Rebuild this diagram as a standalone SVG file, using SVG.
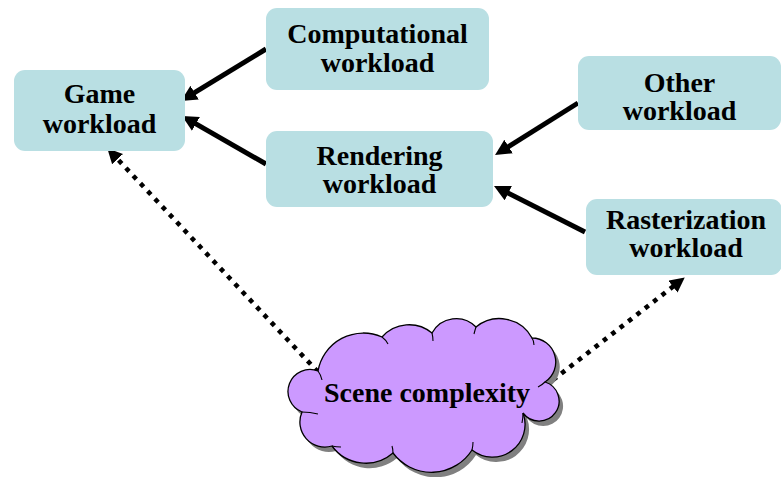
<svg xmlns="http://www.w3.org/2000/svg" width="781" height="477" viewBox="0 0 781 477">
<style>
.box{fill:#b9dfe3;}
.lbl{font-family:"Liberation Serif","Times New Roman",serif;font-weight:bold;font-size:28px;fill:#000;text-anchor:middle;}
.solid{stroke:#000;stroke-width:5;fill:none;}
.dot{stroke:#000;stroke-width:4.6;fill:none;stroke-dasharray:4.6 6;}
.cloud{fill:#cc99ff;stroke:#000;stroke-width:1.3;}
.shadow{fill:#808080;}
.inner{fill:none;stroke:#000;stroke-width:1.1;}
</style>
<defs>
<marker id="ah" viewBox="0 0 16 16" refX="2" refY="8" markerWidth="16" markerHeight="16" markerUnits="userSpaceOnUse" orient="auto">
<path d="M0,0 L16,8 L0,16 z" fill="#000"/>
</marker>
<marker id="ahd" viewBox="0 0 15 15" refX="2" refY="7.5" markerWidth="15" markerHeight="15" markerUnits="userSpaceOnUse" orient="auto">
<path d="M0,0 L15,7.5 L0,15 z" fill="#000"/>
</marker>
<path id="cloudPath" d="M318,371 A46,46 0 0 1 382,337 A36,36 0 0 1 432,333 A27.5,27.5 0 0 1 476,327 A37,37 0 0 1 532,338 A24,24 0 0 1 545,382 A20,20 0 1 1 523,413 A32.7,32.7 0 0 1 472,450 A48,48 0 0 1 393,453 A41.6,41.6 0 0 1 332,446 A25,25 0 0 1 302,412 A22,22 0 0 1 318,371 Z"/>
</defs>
<g id="connectors">
<line class="solid" x1="266" y1="49" x2="192.9" y2="93.7" marker-end="url(#ah)"/>
<line class="solid" x1="266" y1="164" x2="194.2" y2="122.9" marker-end="url(#ah)"/>
<line class="solid" x1="578" y1="103" x2="506.9" y2="147.6" marker-end="url(#ah)"/>
<line class="solid" x1="585" y1="232" x2="506.5" y2="192.3" marker-end="url(#ah)"/>
<line class="dot" x1="318" y1="372" x2="116.2" y2="157.7" marker-end="url(#ahd)"/>
<line class="dot" x1="553" y1="380" x2="674.5" y2="285.4" marker-end="url(#ahd)"/>
</g>
<g id="game">
<rect class="box" x="14" y="70" width="171" height="81" rx="11"/>
<text class="lbl" x="99.5" y="103">Game</text>
<text class="lbl" x="99.5" y="133">workload</text>
</g>
<g id="computational">
<rect class="box" x="266" y="8" width="223" height="82" rx="11"/>
<text class="lbl" x="377.5" y="43">Computational</text>
<text class="lbl" x="377.5" y="72">workload</text>
</g>
<g id="rendering">
<rect class="box" x="266" y="131" width="227" height="76" rx="11"/>
<text class="lbl" x="379.5" y="165">Rendering</text>
<text class="lbl" x="379.5" y="193">workload</text>
</g>
<g id="other">
<rect class="box" x="578" y="56" width="203" height="74" rx="11"/>
<text class="lbl" x="679.5" y="92">Other</text>
<text class="lbl" x="679.5" y="120">workload</text>
</g>
<g id="rasterization">
<rect class="box" x="586" y="199" width="196" height="76" rx="11"/>
<text class="lbl" x="686" y="229">Rasterization</text>
<text class="lbl" x="686" y="257">workload</text>
</g>
<g id="scene">
<use href="#cloudPath" class="shadow" transform="translate(4,5)"/>
<use href="#cloudPath" class="cloud"/>
<path class="inner" d="M318,371 Q321,375 322,380 M382,337 Q386,340 388,344 M432,333 Q433,337 433,341 M476,327 Q475,330 474,334 M532,338 Q534,341 534,345 M545,382 Q542,385 538,387 M523,413 Q523,418 522,423 M472,450 Q473,446 473,442 M393,453 Q393,449 392,446 M332,446 Q336,447 341,447 M302,412 Q310,412 318,414"/>
<text class="lbl" x="427" y="402">Scene complexity</text>
</g>
</svg>
